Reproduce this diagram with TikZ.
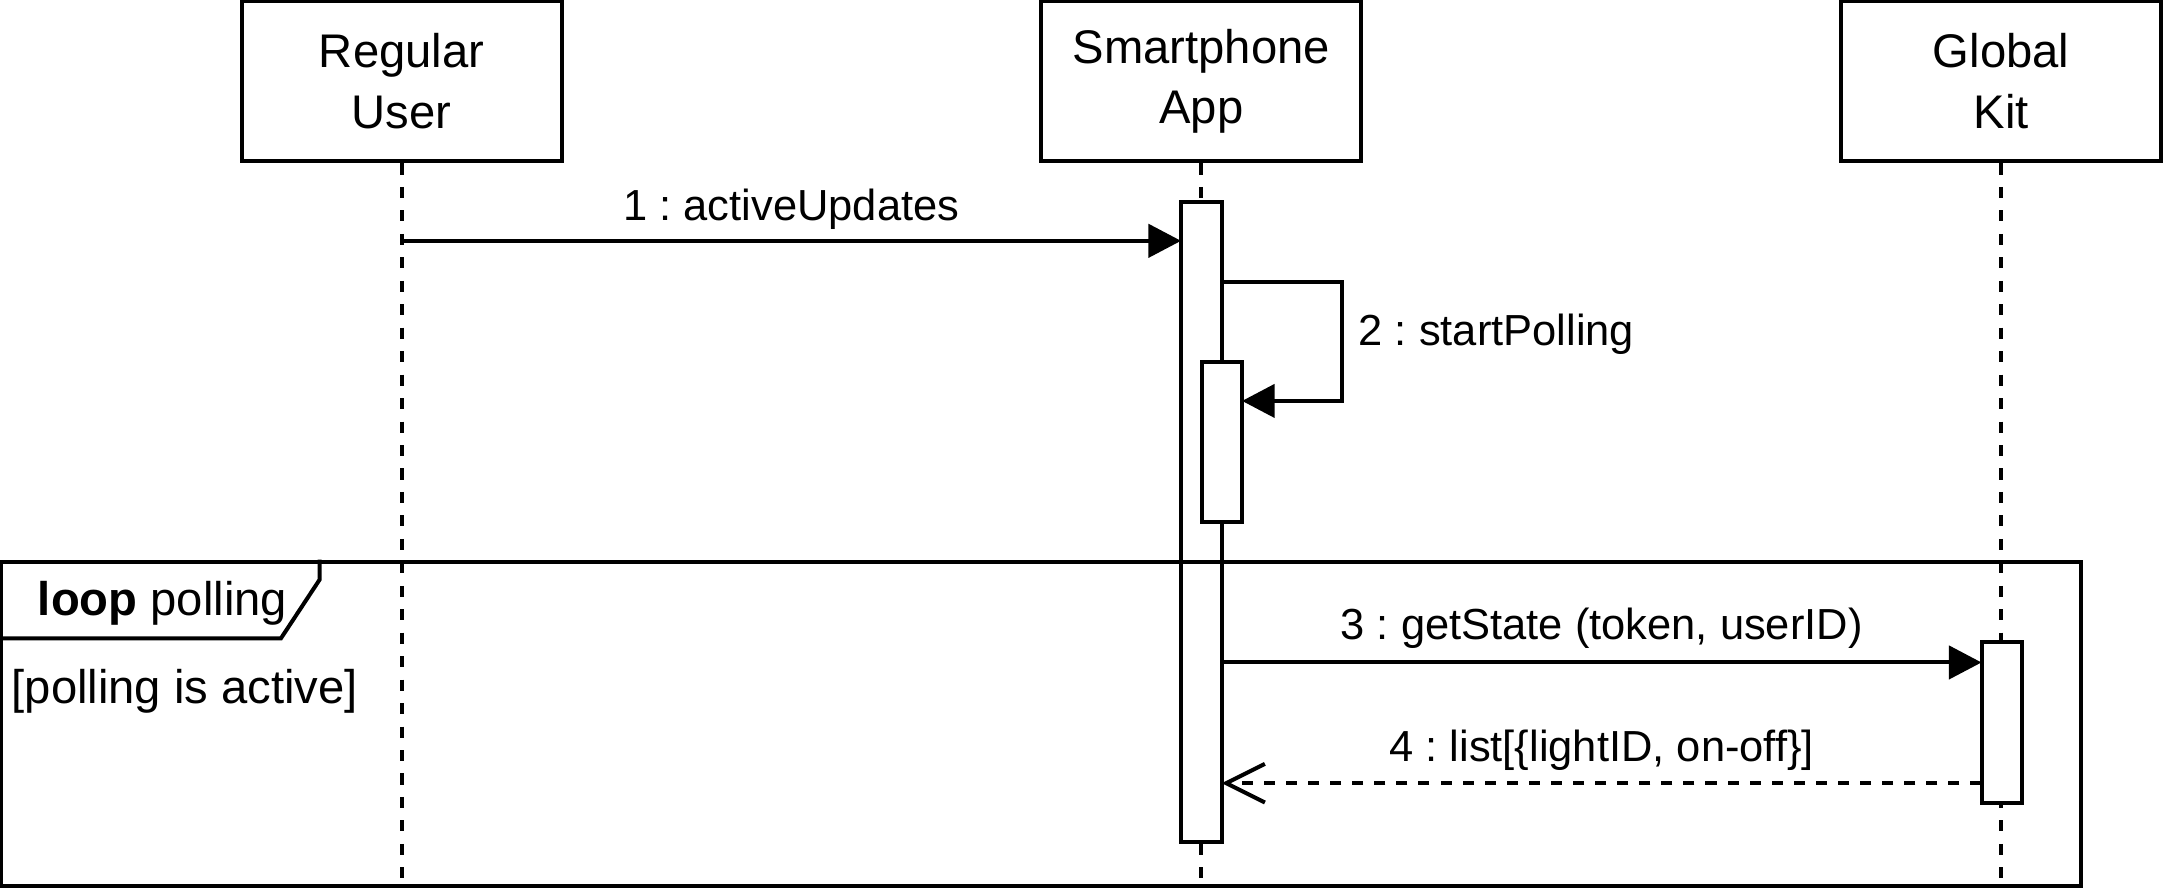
\documentclass[tikz,border=0pt]{standalone}
\usepackage{fontspec}
\setmainfont{Liberation Sans}
\usetikzlibrary{arrows.meta}
\frenchspacing

\begin{document}
\begin{tikzpicture}[x=0.5pt, y=-0.5pt, line width=1.45pt,
  lifebox/.style={draw, fill=white, minimum width=116pt, minimum height=58pt, inner sep=0pt,
    align=center, font=\fontsize{17.1pt}{22pt}\selectfont},
  actbar/.style={draw, fill=white, minimum width=14.75pt, inner sep=0pt, outer sep=0pt},
  lifeline/.style={dash pattern=on 4pt off 4.5pt},
  msg/.style={-{Triangle[length=11.8pt, width=12pt]}},
  reply/.style={dash pattern=on 4pt off 4pt, -{Straight Barb[length=14pt, width=14pt]}},
  lbl/.style={font=\fontsize{15.75pt}{19pt}\selectfont, inner sep=0pt, anchor=base},
  framelbl/.style={font=\fontsize{17.1pt}{20pt}\selectfont, inner sep=0pt, anchor=base west}]
\useasboundingbox (0,0) rectangle (1568,643.5);
\node[lifebox] (user) at (291,59) {Regular\\User};
\node[lifebox] (app) at (870.5,59) {Smartphone\\App};
\node[lifebox] (kit) at (1450,59) {Global\\Kit};
\coordinate (userEnd) at (291,643.5);
\coordinate (appEnd) at (870.5,643.5);
\coordinate (kitEnd) at (1450,643.5);
\draw[lifeline] (user) -- (userEnd);
\draw[lifeline] (app) -- (appEnd);
\draw[lifeline] (kit) -- (kitEnd);
\node[actbar, minimum height=232pt] (appBar) at (870.5,378) {};
\node[actbar, minimum height=58.25pt] (pollBar) at (885.5,320.25) {};
\node[actbar, minimum height=58.5pt] (kitBar) at (1450.5,523.5) {};
\coordinate (m1s) at (291,174.5);
\coordinate (m2s) at (885.25,204);
\coordinate (m2c) at (972.5,204);
\coordinate (m2e) at (900,290.5);
\coordinate (m3s) at (885.25,480);
\coordinate (m4e) at (885.25,567.5);
\draw[msg] (m1s) -- (m1s -| appBar.west) node[lbl, midway, yshift=7.5pt] {1 : activeUpdates};
\draw[msg] (m2s) -- (m2c) |- (m2e);
\node[lbl, anchor=base west] (m2lbl) at (983,250) {2 : startPolling};
\draw[msg] (m3s) -- (m3s -| kitBar.west) node[lbl, midway, yshift=8.5pt] {3 : getState (token, userID)};
\draw[reply] (m4e -| kitBar.west) -- (m4e) node[lbl, midway, yshift=8pt] {4 : list[\{lightID, on-off\}]};
\node[draw, minimum width=753.5pt, minimum height=117.5pt, inner sep=0pt] (loop) at (754.5,524.5) {};
\draw (loop.north west) ++(0,57) -- ++(204,0) -- ++(28,-42.5) -- ++(0,-14.5);
\node[framelbl] (loopLbl) at (26,445.7) {\textbf{loop} polling};
\node[framelbl] (guard) at (7,509.7) {[polling is active]};
\end{tikzpicture}
\end{document}
